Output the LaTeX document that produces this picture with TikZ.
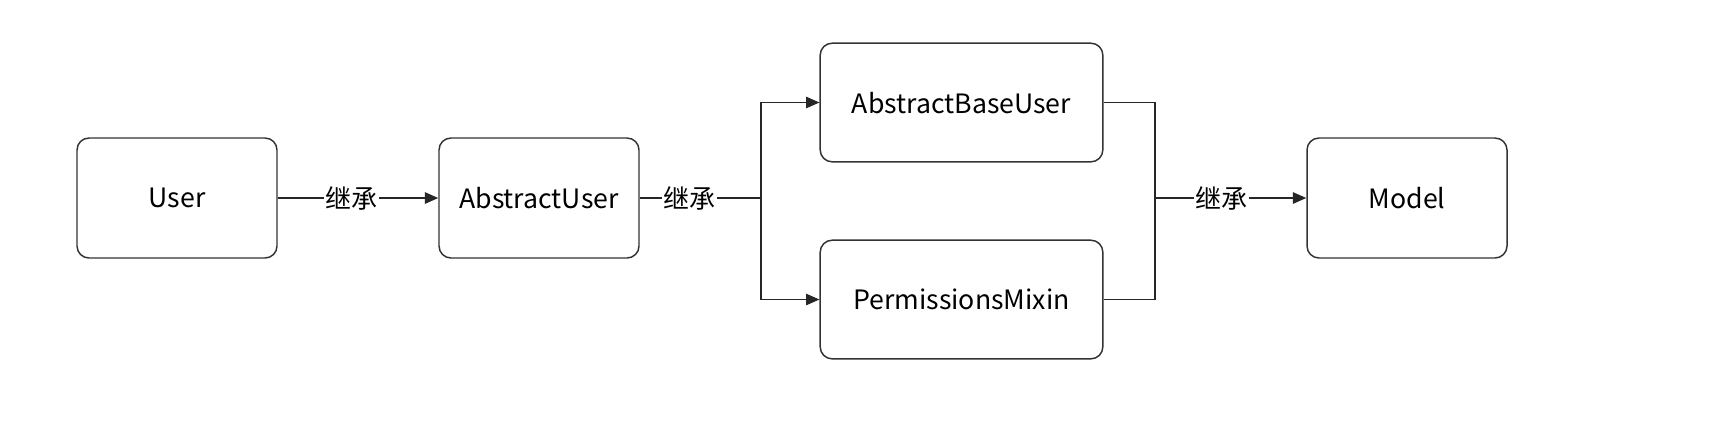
\documentclass[tikz,border=0pt]{standalone}
\usepackage{fontspec}
\setmainfont{Noto Sans CJK SC}
\usetikzlibrary{arrows.meta}
\begin{document}
\begin{tikzpicture}[x=0.75pt,y=-0.75pt,
 box/.style={draw=black!80, line width=1.1pt, rounded corners=9pt, fill=white, font=\fontsize{20}{24}\selectfont, inner sep=0pt, minimum height=90pt, text depth=-1pt},
 small/.style={minimum width=150pt},
 wide/.style={minimum width=212pt, minimum height=89pt},
 conn/.style={draw=black!85, line width=1.2pt},
 arr/.style={conn,-{Triangle[length=10pt,width=8.5pt]}},
 lbl/.style={fill=white, inner sep=1pt, font=\fontsize{19.5}{23}\selectfont}]
\useasboundingbox (0,0) rectangle (1720,426);
\node[box,small] (user) at (177,198) {User};
\node[box,small] (au) at (539,198) {AbstractUser};
\node[box,wide] (abu) at (961.5,102.5) {AbstractBaseUser};
\node[box,wide] (pm) at (961.5,299.5) {PermissionsMixin};
\node[box,small] (model) at (1407,198) {Model};
\coordinate (br) at (761,198);
\coordinate (mg) at (1155,198);
\draw[arr] (user) -- node[lbl,pos=0.46]{继承} (au);
\draw[conn] (au.east) -- node[lbl,pos=0.41]{继承} (br);
\draw[arr] (br) |- (abu.west);
\draw[arr] (br) |- (pm.west);
\draw[conn] (abu.east) -| (mg);
\draw[conn] (pm.east) -| (mg);
\draw[arr] (mg) -- node[lbl,pos=0.44]{继承} (model);
\end{tikzpicture}
\end{document}
